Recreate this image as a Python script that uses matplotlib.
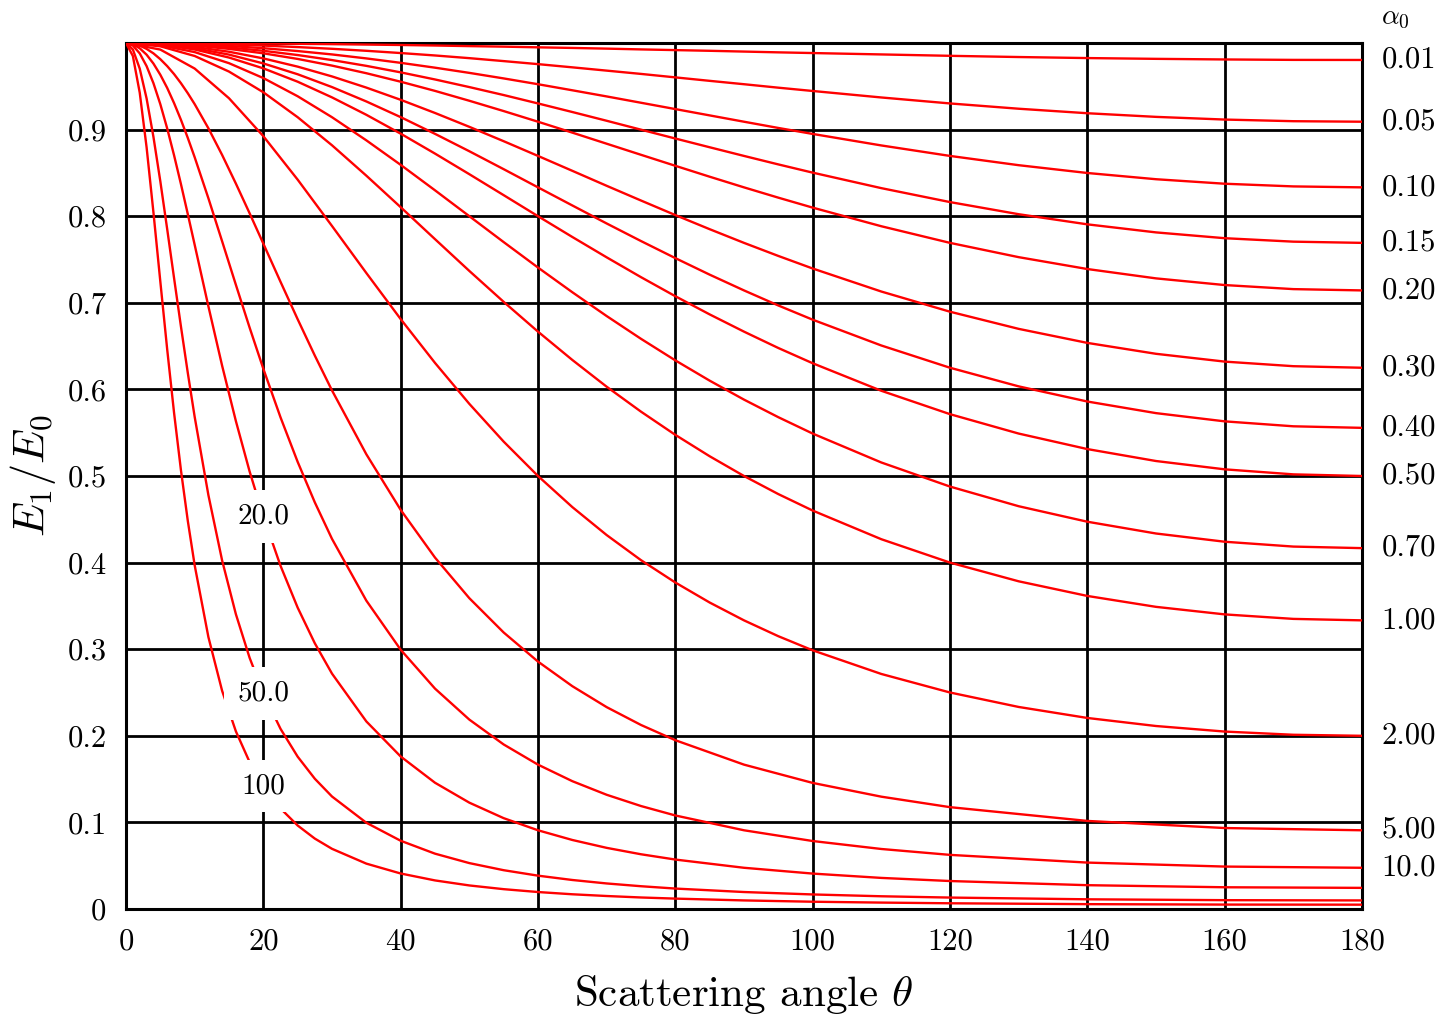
import matplotlib
matplotlib.use('Agg')
import matplotlib.pyplot as plt

plt.rcParams['font.family'] = 'serif'
plt.rcParams['font.serif'] = ['cmr10', 'DejaVu Serif']
plt.rcParams['mathtext.fontset'] = 'cm'
plt.rcParams['axes.unicode_minus'] = False

# scattering angle (degrees); small alpha_0 curves use angles_a,
# the steep large alpha_0 curves use the denser angles_b near 0
angles_a = [0, 5, 10, 15, 20, 25, 30, 35, 40, 45, 50, 55, 60, 65, 70, 75, 80, 85, 90, 95,
            100, 110, 120, 130, 140, 150, 160, 170, 180]
angles_b = [0, 1, 2, 3, 4, 5, 6, 7, 8, 9, 10, 12, 14, 16, 18, 20, 22.5, 25, 27.5, 30,
            35, 40, 45, 50, 55, 60, 65, 70, 75, 80, 90, 100, 110, 120, 140, 160, 180]

# E1/E0 per alpha_0
alpha_0_01 = [1.0, 1.0, 1.0, 0.9997, 0.9994, 0.9991, 0.9987, 0.9982, 0.9977, 0.9971, 0.9964, 0.9958, 0.9950, 0.9943, 0.9935,
              0.9926, 0.9918, 0.9910, 0.9901, 0.9892, 0.9884, 0.9868, 0.9852, 0.9838, 0.9826, 0.9817, 0.9810, 0.9805, 0.9804]
alpha_0_05 = [1.0, 0.9998, 0.9992, 0.9983, 0.9970, 0.9953, 0.9933, 0.9910, 0.9884, 0.9856, 0.9825, 0.9791, 0.9756, 0.9719, 0.9681,
              0.9643, 0.9603, 0.9563, 0.9524, 0.9484, 0.9446, 0.9371, 0.9302, 0.9241, 0.9189, 0.9147, 0.9116, 0.9097, 0.9091]
alpha_0_10 = [1.0, 0.9996, 0.9985, 0.9966, 0.9940, 0.9907, 0.9868, 0.9822, 0.9771, 0.9715, 0.9655, 0.9591, 0.9524, 0.9454, 0.9383,
              0.9310, 0.9237, 0.9164, 0.9091, 0.9019, 0.8950, 0.8817, 0.8696, 0.8589, 0.8499, 0.8427, 0.8375, 0.8344, 0.8333]
alpha_0_15 = [1.0, 0.9994, 0.9977, 0.9949, 0.9910, 0.9861, 0.9803, 0.9736, 0.9661, 0.9579, 0.9491, 0.9399, 0.9302, 0.9203, 0.9102,
              0.8999, 0.8897, 0.8796, 0.8696, 0.8598, 0.8503, 0.8324, 0.8163, 0.8023, 0.7906, 0.7813, 0.7746, 0.7706, 0.7692]
alpha_0_20 = [1.0, 0.9992, 0.9970, 0.9932, 0.9881, 0.9816, 0.9739, 0.9651, 0.9553, 0.9447, 0.9333, 0.9214, 0.9091, 0.8965, 0.8837,
              0.8709, 0.8582, 0.8456, 0.8333, 0.8214, 0.8099, 0.7884, 0.7692, 0.7527, 0.7390, 0.7282, 0.7205, 0.7158, 0.7143]
alpha_0_30 = [1.0, 0.9989, 0.9955, 0.9899, 0.9822, 0.9727, 0.9614, 0.9485, 0.9344, 0.9192, 0.9032, 0.8866, 0.8696, 0.8524, 0.8351,
              0.8181, 0.8013, 0.7850, 0.7692, 0.7541, 0.7396, 0.7130, 0.6897, 0.6699, 0.6537, 0.6411, 0.6321, 0.6268, 0.6250]
alpha_0_40 = [1.0, 0.9985, 0.9940, 0.9866, 0.9764, 0.9639, 0.9491, 0.9325, 0.9144, 0.8951, 0.8750, 0.8543, 0.8333, 0.8124, 0.7916,
              0.7713, 0.7516, 0.7325, 0.7143, 0.6969, 0.6805, 0.6507, 0.6250, 0.6035, 0.5860, 0.5726, 0.5631, 0.5574, 0.5556]
alpha_0_50 = [1.0, 0.9981, 0.9925, 0.9832, 0.9707, 0.9553, 0.9372, 0.9171, 0.8953, 0.8723, 0.8485, 0.8243, 0.8000, 0.7760, 0.7525,
              0.7296, 0.7076, 0.6866, 0.6667, 0.6478, 0.6302, 0.5984, 0.5714, 0.5490, 0.5311, 0.5173, 0.5077, 0.5019, 0.5000]
alpha_0_70 = [1.0, 0.9973, 0.9895, 0.9767, 0.9595, 0.9385, 0.9143, 0.8876, 0.8593, 0.8299, 0.8000, 0.7701, 0.7407, 0.7122, 0.6847,
              0.6584, 0.6335, 0.6101, 0.5882, 0.5679, 0.5490, 0.5156, 0.4878, 0.4651, 0.4472, 0.4336, 0.4241, 0.4185, 0.4167]
alpha_1_00 = [1.0, 0.9962, 0.9850, 0.9670, 0.9431, 0.9143, 0.8819, 0.8468, 0.8104, 0.7735, 0.7368, 0.7011, 0.6667, 0.6340, 0.6031,
              0.5743, 0.5475, 0.5228, 0.5000, 0.4791, 0.4601, 0.4270, 0.4000, 0.3784, 0.3615, 0.3489, 0.3402, 0.3350, 0.3333]
alpha_2_00 = [1.0, 0.9924, 0.9705, 0.9362, 0.8924, 0.8422, 0.7887, 0.7344, 0.6812, 0.6306, 0.5833, 0.5397, 0.5000, 0.4641, 0.4318,
              0.4028, 0.3770, 0.3539, 0.3333, 0.3150, 0.2987, 0.2714, 0.2500, 0.2333, 0.2206, 0.2113, 0.2049, 0.2012, 0.2000]

alpha_5_00 = [1.0, 0.9992, 0.9970, 0.9932, 0.9880, 0.9813, 0.9733, 0.9641, 0.9536, 0.9420, 0.9294, 0.9015, 0.8707, 0.8377, 0.8034,
              0.7683, 0.7243, 0.6810, 0.6390, 0.5988, 0.5251, 0.4609, 0.4058, 0.3589, 0.3193, 0.2857, 0.2573, 0.2331, 0.2125,
              0.1949, 0.1667, 0.1456, 0.1297, 0.1176, 0.1017, 0.0935, 0.0909]
alpha_10_0 = [1.0, 0.9985, 0.9939, 0.9865, 0.9762, 0.9633, 0.9481, 0.9306, 0.9113, 0.8904, 0.8681, 0.8207, 0.7710, 0.7208, 0.6714,
              0.6238, 0.5678, 0.5163, 0.4695, 0.4274, 0.3561, 0.2994, 0.2545, 0.2187, 0.1900, 0.1667, 0.1476, 0.1319, 0.1189,
              0.1080, 0.0909, 0.0785, 0.0693, 0.0625, 0.0536, 0.0490, 0.0476]
alpha_20_0 = [1.0, 0.9970, 0.9880, 0.9733, 0.9535, 0.9293, 0.9013, 0.8703, 0.8371, 0.8024, 0.7670, 0.6959, 0.6273, 0.5635, 0.5053,
              0.4533, 0.3964, 0.3480, 0.3068, 0.2718, 0.2166, 0.1761, 0.1458, 0.1228, 0.1049, 0.0909, 0.0797, 0.0706, 0.0632,
              0.0571, 0.0476, 0.0409, 0.0359, 0.0323, 0.0275, 0.0251, 0.0244]
alpha_50_0 = [1.0, 0.9925, 0.9704, 0.9359, 0.8914, 0.8402, 0.7850, 0.7285, 0.6727, 0.6190, 0.5683, 0.4779, 0.4024, 0.3405, 0.2901,
              0.2490, 0.2081, 0.1759, 0.1504, 0.1299, 0.0996, 0.0788, 0.0639, 0.0530, 0.0448, 0.0385, 0.0335, 0.0295, 0.0263,
              0.0236, 0.0196, 0.0168, 0.0147, 0.0132, 0.0112, 0.0102, 0.0099]
alpha_100 = [1.0, 0.9850, 0.9426, 0.8795, 0.8041, 0.7244, 0.6461, 0.5729, 0.5068, 0.4482, 0.3970, 0.3140, 0.2519, 0.2052, 0.1697,
             0.1422, 0.1161, 0.0964, 0.0813, 0.0695, 0.0524, 0.0410, 0.0330, 0.0272, 0.0229, 0.0196, 0.0170, 0.0150, 0.0133,
             0.0120, 0.0099, 0.0084, 0.0074, 0.0066, 0.0056, 0.0051, 0.0050]

# curves labelled at the right edge
right_labels = ['0.01', '0.05', '0.10', '0.15', '0.20', '0.30', '0.40', '0.50', '0.70', '1.00', '2.00', '5.00', '10.0']
right_series = [alpha_0_01, alpha_0_05, alpha_0_10, alpha_0_15, alpha_0_20, alpha_0_30, alpha_0_40,
                alpha_0_50, alpha_0_70, alpha_1_00, alpha_2_00, alpha_5_00, alpha_10_0]

# curves labelled inline at theta = 20
inline_labels = ['20.0', '50.0', '100']
inline_series = [alpha_20_0, alpha_50_0, alpha_100]

xticks = [0, 20, 40, 60, 80, 100, 120, 140, 160, 180]
yticks = [0, 0.1, 0.2, 0.3, 0.4, 0.5, 0.6, 0.7, 0.8, 0.9]
ytick_labels = ['0', '0.1', '0.2', '0.3', '0.4', '0.5', '0.6', '0.7', '0.8', '0.9']


def angles_for(ys):
    return angles_a if len(ys) == len(angles_a) else angles_b


fig = plt.figure(figsize=(14.47, 10.22), dpi=100)
ax = fig.add_axes([126 / 1447, 113 / 1022, 1236 / 1447, 866 / 1022])

for ys in right_series + inline_series:
    ax.plot(angles_for(ys), ys, color='red', lw=1.7, zorder=3)

for lab, ys in zip(right_labels, right_series):
    ax.annotate(lab, xy=(180, ys[-1]), xytext=(14, 0), textcoords='offset points',
                ha='left', va='center', fontsize=22, annotation_clip=False)

i20 = angles_b.index(20)
for lab, ys in zip(inline_labels, inline_series):
    ax.text(20, ys[i20], lab, ha='center', va='center', fontsize=21, zorder=5,
            bbox=dict(boxstyle='square,pad=0.45', fc='white', ec='none'))

ax.annotate(r'$\alpha_0$', xy=(180, 1), xytext=(14, 18), textcoords='offset points',
            ha='left', va='center', fontsize=20, annotation_clip=False)

ax.set_xlim(0, 180)
ax.set_ylim(0, 1)
ax.set_xticks(xticks)
ax.set_yticks(yticks, ytick_labels)
ax.grid(True, color='black', lw=2.0)
ax.set_axisbelow(True)
ax.tick_params(length=0, pad=14, labelsize=22)
for sp in ax.spines.values():
    sp.set_linewidth(2.2)
    sp.set_zorder(2.5)

ax.set_xlabel(r'Scattering angle $\theta$', fontsize=31, labelpad=12)
ax.set_ylabel(r'$E_1/E_0$', fontsize=32, labelpad=7)

fig.savefig('out.png', dpi=100)
